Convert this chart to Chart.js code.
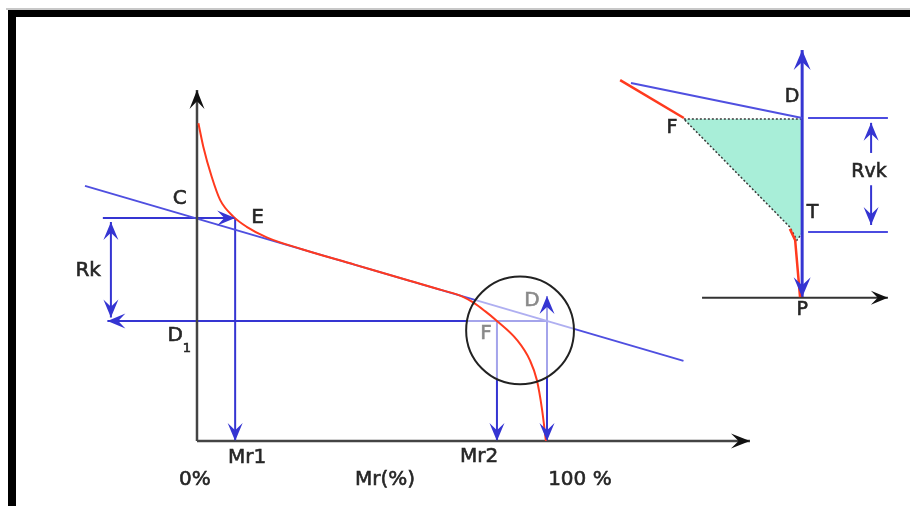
<!DOCTYPE html>
<html>
<head>
<meta charset="utf-8">
<script src="https://cdn.jsdelivr.net/npm/chart.js@4.4.1/dist/chart.umd.min.js"></script>
<style>
  html, body { margin: 0; padding: 0; background: #fff; }
  canvas { display: block; }
</style>
</head>
<body>
<canvas id="chart" width="910" height="506"></canvas>
<script>
// units: x = material ratio Mr (%), y = profile height (same screen step as 1 %)
const abbottCurve = [[0.4, 90.8], [1.8, 84.1], [4.2, 75.5], [6.6, 68.9], [10.4, 64.1], [14.2, 61.2], [19.9, 58.2],
  [30, 54.8], [45, 50.4], [60, 46.0], [70, 43.1], [76, 41.2], [78.9, 39.6], [82.3, 37.1],
  [85.7, 34.3], [91.4, 28.9], [95.1, 23.1], [97.1, 17.4], [98.6, 8.9], [99.7, 0]];
const tangentLine = [[-32, 72.9], [139, 22.9]];
const heightAxis = [[0, 0], [0, 100.3]];
const ratioAxis = [[0, 0], [158, 0]];
const cLevel = [[-26.9, 63.7], [10.9, 63.7]];
const mr1Drop = [[10.9, 63.7], [10.9, 0]];
const rkSpan = [[-24.6, 62.6], [-24.6, 35.3]];
const d1Level = [[100, 34.3], [-25.6, 34.3]];
const mr2Drop = [[85.7, 34.3], [85.7, 0]];
const dDrop = [[100, 41.4], [100, 0]];

// inset (Rvk detail)
const insetRedTop = [[120.9, 103.1], [139.1, 92.3]];
const insetRedLow = [[169.4, 60.6], [170.9, 57.4], [172.3, 41.1]];
const insetTangent = [[124, 102.3], [172.9, 92.3]];
const insetArea = [[139.1, 92], [172.9, 92], [172.9, 59.4], [171.4, 57.4], [169.4, 61.1], [139.1, 92]];
const insetAxisV = [[172.9, 41.1], [172.9, 111.7]];
const insetAxisH = [[144.3, 40.9], [197.4, 40.9]];
const dLevel = [[174.6, 92.3], [197.4, 92.3]];
const tLevel = [[174.6, 59.7], [197.4, 59.7]];
const rvkUp = [[192.6, 82.3], [192.6, 90.9]];
const rvkDown = [[192.6, 73.1], [192.6, 61.7]];

const circleCentre = [92.3, 31.6];
const circleRadius = 15.4;

const labelText = ['C', 'E', 'Rk', 'D', '1', 'D', 'F', 'Mr1', 'Mr2', '0%', 'Mr(%)', '100 %', 'D', 'F', 'T', 'P', 'Rvk'];
const labelAt = [[-4.9, 69.1], [17.3, 63.7], [-31.1, 48.6], [-6.2, 30.0], [-2.9, 26.4], [95.7, 40.0], [82.6, 30.6],
  [14.3, -4.9], [80.6, -4.6], [-0.6, -11.1], [53.7, -11.1], [109.4, -11.1],
  [170.0, 98.3], [135.7, 89.4], [175.9, 65.1], [172.9, 37.4], [192.0, 76.9]];

const BLUE = '#3535d2';
const RED = '#ff3a1e';
const INK = '#262626';

function line(points, color, width, extra) {
  return Object.assign({
    data: points.map(([x, y]) => ({ x, y })),
    borderColor: color, borderWidth: width, showLine: true,
    pointRadius: 0, fill: false, tension: 0
  }, extra);
}

function arrowHead(ctx, tip, from, color, len, half) {
  const ang = Math.atan2(tip.y - from.y, tip.x - from.x);
  ctx.save();
  ctx.translate(tip.x, tip.y);
  ctx.rotate(ang);
  ctx.beginPath();
  ctx.moveTo(0, 0);
  ctx.lineTo(-len, -half);
  ctx.lineTo(-len * 0.6, 0);
  ctx.lineTo(-len, half);
  ctx.closePath();
  ctx.fillStyle = color;
  ctx.fill();
  ctx.restore();
}

const diagramPlugin = {
  id: 'diagram',
  beforeDatasetDraw(chart, args) {
    // fade everything under the lens before the red curve goes on top
    if (chart.data.datasets[args.index].id !== 'abbott') return;
    const { ctx, scales: { x, y } } = chart;
    const cx = x.getPixelForValue(circleCentre[0]);
    const cy = y.getPixelForValue(circleCentre[1]);
    const r = x.getPixelForValue(circleCentre[0] + circleRadius) - cx;
    ctx.save();
    ctx.beginPath();
    ctx.arc(cx, cy, r, 0, Math.PI * 2);
    ctx.fillStyle = 'rgba(255,255,255,0.55)';
    ctx.fill();
    ctx.restore();
  },
  afterDatasetsDraw(chart) {
    const { ctx, scales: { x, y } } = chart;
    chart.data.datasets.forEach((ds, i) => {
      if (!ds.arrows) return;
      const pts = chart.getDatasetMeta(i).data;
      const n = pts.length;
      const col = ds.arrowColor || ds.borderColor;
      const len = ds.arrowLen || 18;
      const half = ds.arrowHalf || 7.5;
      if (ds.arrows === 'end' || ds.arrows === 'both') arrowHead(ctx, pts[n - 1], pts[n - 2], col, len, half);
      if (ds.arrows === 'start' || ds.arrows === 'both') arrowHead(ctx, pts[0], pts[1], col, len, half);
    });

    // lens
    const cx = x.getPixelForValue(circleCentre[0]);
    const cy = y.getPixelForValue(circleCentre[1]);
    const r = x.getPixelForValue(circleCentre[0] + circleRadius) - cx;
    ctx.save();
    ctx.beginPath();
    ctx.arc(cx, cy, r, 0, Math.PI * 2);
    ctx.strokeStyle = '#222';
    ctx.lineWidth = 2;
    ctx.stroke();

    // labels
    ctx.textAlign = 'center';
    ctx.textBaseline = 'middle';
    ctx.lineWidth = 0.6;
    labelText.forEach((t, i) => {
      const px = x.getPixelForValue(labelAt[i][0]);
      const py = y.getPixelForValue(labelAt[i][1]);
      let size = i >= 12 ? 19 : 20;
      let color = INK;
      if (i === 4) size = 13;
      if (i === 5 || i === 6) color = '#8a8a8a';
      ctx.font = size + 'px "DejaVu Sans", Verdana, sans-serif';
      ctx.fillStyle = color;
      ctx.strokeStyle = color;
      ctx.fillText(t, px, py);
      ctx.strokeText(t, px, py);
    });
    ctx.restore();
  },
  afterDraw(chart) {
    const ctx = chart.ctx;
    ctx.save();
    ctx.fillStyle = '#c8c8c8';
    ctx.fillRect(6, 8, 904, 2);
    ctx.fillStyle = '#000';
    ctx.fillRect(8, 10, 902, 7);
    ctx.fillRect(8, 10, 8, 496);
    ctx.restore();
  }
};

new Chart(document.getElementById('chart'), {
  type: 'scatter',
  data: {
    datasets: [
      line(abbottCurve, RED, 2, { id: 'abbott', cubicInterpolationMode: 'monotone' }),
      line(insetRedTop, RED, 2.5),
      line(insetRedLow, RED, 2.5),
      line(ratioAxis, '#444', 2.5, { arrows: 'end', arrowColor: '#111', arrowLen: 19, arrowHalf: 7.5 }),
      line(heightAxis, '#444', 2.5, { arrows: 'end', arrowColor: '#111', arrowLen: 19, arrowHalf: 7.5 }),
      line(insetAxisH, '#333', 2, { arrows: 'end', arrowColor: '#111', arrowLen: 17, arrowHalf: 7 }),
      line(tangentLine, '#4f4fe0', 2),
      line(cLevel, BLUE, 2, { arrows: 'end' }),
      line(mr1Drop, BLUE, 2, { arrows: 'end' }),
      line(rkSpan, BLUE, 2, { arrows: 'both' }),
      line(d1Level, BLUE, 2, { arrows: 'end' }),
      line(mr2Drop, BLUE, 2, { arrows: 'end' }),
      line(dDrop, BLUE, 2, { arrows: 'both' }),
      line(insetTangent, '#4f4fe0', 2),
      line(insetAxisV, BLUE, 3, { arrows: 'both', arrowLen: 20, arrowHalf: 8.5 }),
      line(dLevel, '#4b4be0', 2),
      line(tLevel, '#4b4be0', 2),
      line(rvkUp, BLUE, 2, { arrows: 'end' }),
      line(rvkDown, BLUE, 2, { arrows: 'end' }),
      line(insetArea, '#3a3a3a', 1.5, { fill: 'shape', backgroundColor: '#a8eed8', borderDash: [2, 2] })
    ]
  },
  options: {
    responsive: false,
    devicePixelRatio: 1,
    animation: false,
    layout: { padding: 0 },
    plugins: { legend: { display: false }, tooltip: { enabled: false } },
    scales: {
      x: { type: 'linear', display: false, min: -56.2857, max: 203.7143 },
      y: { type: 'linear', display: false, min: -18.5714, max: 126 }
    }
  },
  plugins: [diagramPlugin]
});
</script>
</body>
</html>
